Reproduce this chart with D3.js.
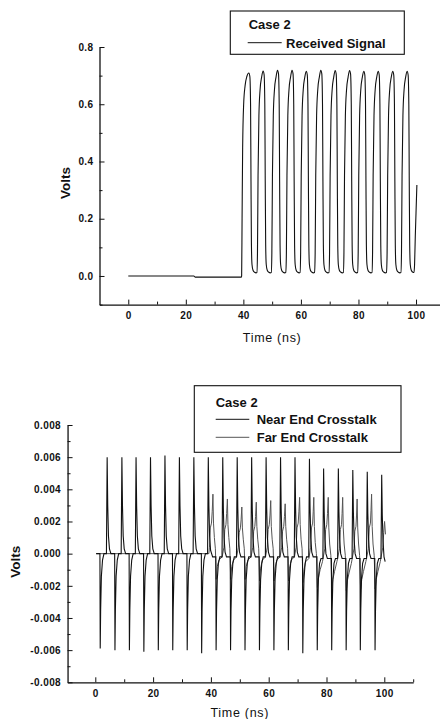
<!DOCTYPE html>
<html>
<head>
<meta charset="utf-8">
<script src="https://cdn.jsdelivr.net/npm/d3@7"></script>
<style>
  body { margin: 0; background: #fff; }
  svg { display: block; font-family: "Liberation Sans", Arial, sans-serif; }
  .axis .tick text { font-size: 10px; font-weight: bold; letter-spacing: 0.4px; fill: #111; }
  .axis path, .axis line { stroke: #111; }
  .axis path { stroke-width: 1.3px; }
  .legend text { font-size: 13px; font-weight: bold; fill: #111; }
  .ytitle { font-size: 13.5px; font-weight: bold; fill: #111; }
  .xtitle { font-size: 12.5px; letter-spacing: 0.7px; fill: #111; }
</style>
</head>
<body>
<div id="chart"></div>
<script>
"use strict"
// ---- data ----
var timeTicksTop = [0, 20, 40, 60, 80, 100];
var timeMinorTop = [10, 30, 50, 70, 90];
var voltTicksTop = [0.0, 0.2, 0.4, 0.6, 0.8];
var voltMinorTop = [-0.1, 0.1, 0.3, 0.5, 0.7];

var timeTicksBot = [0, 20, 40, 60, 80, 100];
var timeMinorBot = [10, 30, 50, 70, 90, 110];
var voltTicksBot = [-0.008, -0.006, -0.004, -0.002, 0, 0.002, 0.004, 0.006, 0.008];
var voltMinorBot = [-0.007, -0.005, -0.003, -0.001, 0.001, 0.003, 0.005, 0.007];

var legendTop = ["Case 2", "Received Signal"];
var legendBot = ["Case 2", "Near End Crosstalk", "Far End Crosstalk"];

// [time ns, volts]
var receivedSignal = [
  [0, 0], [22.8, 0], [23.2, -0.004], [39.3, -0.004],
  [39.4, 0.0], [39.55, 0.2], [39.75, 0.45], [40.1, 0.6], [40.6, 0.665], [41.2, 0.697], [41.9, 0.709],
  [42.25, 0.697], [42.5, 0.6], [42.65, 0.33], [42.8, 0.11], [43.0, 0.04], [43.35, 0.02], [43.9, 0.013], [44.4, 0.011],
  [44.7, 0.012], [44.9, 0.08], [45.1, 0.35], [45.4, 0.56], [45.8, 0.65], [46.35, 0.695], [46.85, 0.716],
  [47.2, 0.704], [47.45, 0.6], [47.6, 0.33], [47.75, 0.11], [47.95, 0.04], [48.3, 0.02], [48.85, 0.013], [49.35, 0.011],
  [49.7, 0.012], [49.9, 0.08], [50.1, 0.35], [50.4, 0.56], [50.8, 0.65], [51.35, 0.695], [51.85, 0.719],
  [52.2, 0.707], [52.45, 0.6], [52.6, 0.33], [52.75, 0.11], [52.95, 0.04], [53.3, 0.02], [53.85, 0.013], [54.35, 0.011],
  [54.75, 0.012], [54.95, 0.08], [55.15, 0.35], [55.45, 0.56], [55.85, 0.65], [56.4, 0.695], [56.9, 0.719],
  [57.25, 0.707], [57.5, 0.6], [57.65, 0.33], [57.8, 0.11], [58.0, 0.04], [58.35, 0.02], [58.9, 0.013], [59.4, 0.011],
  [59.7, 0.012], [59.9, 0.08], [60.1, 0.35], [60.4, 0.56], [60.8, 0.65], [61.35, 0.695], [61.85, 0.715],
  [62.2, 0.703], [62.45, 0.6], [62.6, 0.33], [62.75, 0.11], [62.95, 0.04], [63.3, 0.02], [63.85, 0.013], [64.35, 0.011],
  [64.75, 0.012], [64.95, 0.08], [65.15, 0.35], [65.45, 0.56], [65.85, 0.65], [66.4, 0.695], [66.9, 0.719],
  [67.25, 0.707], [67.5, 0.6], [67.65, 0.33], [67.8, 0.11], [68.0, 0.04], [68.35, 0.02], [68.9, 0.013], [69.4, 0.011],
  [69.75, 0.012], [69.95, 0.08], [70.15, 0.35], [70.45, 0.56], [70.85, 0.65], [71.4, 0.695], [71.9, 0.718],
  [72.25, 0.706], [72.5, 0.6], [72.65, 0.33], [72.8, 0.11], [73.0, 0.04], [73.35, 0.02], [73.9, 0.013], [74.4, 0.011],
  [74.75, 0.012], [74.95, 0.08], [75.15, 0.35], [75.45, 0.56], [75.85, 0.65], [76.4, 0.695], [76.9, 0.718],
  [77.25, 0.706], [77.5, 0.6], [77.65, 0.33], [77.8, 0.11], [78.0, 0.04], [78.35, 0.02], [78.9, 0.013], [79.4, 0.011],
  [79.7, 0.012], [79.9, 0.08], [80.1, 0.35], [80.4, 0.56], [80.8, 0.65], [81.35, 0.695], [81.85, 0.715],
  [82.2, 0.703], [82.45, 0.6], [82.6, 0.33], [82.75, 0.11], [82.95, 0.04], [83.3, 0.02], [83.85, 0.013], [84.35, 0.011],
  [84.7, 0.012], [84.9, 0.08], [85.1, 0.35], [85.4, 0.56], [85.8, 0.65], [86.35, 0.695], [86.85, 0.715],
  [87.2, 0.703], [87.45, 0.6], [87.6, 0.33], [87.75, 0.11], [87.95, 0.04], [88.3, 0.02], [88.85, 0.013], [89.35, 0.011],
  [89.75, 0.012], [89.95, 0.08], [90.15, 0.35], [90.45, 0.56], [90.85, 0.65], [91.4, 0.695], [91.9, 0.715],
  [92.25, 0.703], [92.5, 0.6], [92.65, 0.33], [92.8, 0.11], [93.0, 0.04], [93.35, 0.02], [93.9, 0.013], [94.4, 0.011],
  [94.75, 0.012], [94.95, 0.08], [95.15, 0.35], [95.45, 0.56], [95.85, 0.65], [96.4, 0.695], [96.9, 0.715],
  [97.25, 0.703], [97.5, 0.6], [97.65, 0.33], [97.8, 0.11], [98.0, 0.04], [98.35, 0.02], [98.9, 0.013],
  [99.3, 0.012], [99.5, 0.04], [99.75, 0.14], [100.0, 0.22], [100.3, 0.318]
];

var nearEnd = [
  [0.3, 0], [1.6, 0], [1.7, -0.0059], [1.85, -0.0035], [2.1, -0.0014], [2.5, -0.0004], [3.0, 0],
  [3.85, 0], [4.1, 0.006], [4.3, 0.003], [4.55, 0.0011], [4.9, 0.0003], [5.4, 0],
  [6.7, 0], [6.8, -0.006], [6.95, -0.0035], [7.2, -0.0014], [7.6, -0.0004], [8.1, 0],
  [8.95, 0], [9.2, 0.006], [9.4, 0.003], [9.65, 0.0011], [10.0, 0.0003], [10.5, 0],
  [11.7, 0], [11.8, -0.006], [11.95, -0.0035], [12.2, -0.0014], [12.6, -0.0004], [13.1, 0],
  [13.85, 0], [14.1, 0.006], [14.3, 0.003], [14.55, 0.0011], [14.9, 0.0003], [15.4, 0],
  [16.7, 0], [16.8, -0.0061], [16.95, -0.0035], [17.2, -0.0014], [17.6, -0.0004], [18.1, 0],
  [18.85, 0], [19.1, 0.006], [19.3, 0.003], [19.55, 0.0011], [19.9, 0.0003], [20.4, 0],
  [21.7, 0], [21.8, -0.006], [21.95, -0.0035], [22.2, -0.0014], [22.6, -0.0004], [23.1, 0],
  [23.85, 0], [24.1, 0.0061], [24.3, 0.003], [24.55, 0.0011], [24.9, 0.0003], [25.4, 0],
  [26.7, 0], [26.8, -0.006], [26.95, -0.0035], [27.2, -0.0014], [27.6, -0.0004], [28.1, 0],
  [28.85, 0], [29.1, 0.006], [29.3, 0.003], [29.55, 0.0011], [29.9, 0.0003], [30.4, 0],
  [31.7, 0], [31.8, -0.006], [31.95, -0.0035], [32.2, -0.0014], [32.6, -0.0004], [33.1, 0],
  [33.85, 0], [34.1, 0.006], [34.3, 0.003], [34.55, 0.0011], [34.9, 0.0003], [35.4, 0],
  [36.7, 0], [36.8, -0.0062], [36.95, -0.0035], [37.2, -0.0014], [37.6, -0.0004], [38.1, 0],
  [38.85, 0], [39.1, 0.006], [39.3, 0.003], [39.55, 0.0011], [39.9, 0.0002], [40.6, -0.0002],
  [41.7, -0.0002], [41.8, -0.006], [41.95, -0.0036], [42.2, -0.0016], [42.6, -0.0006], [43.1, -0.0002],
  [43.85, -0.0002], [44.1, 0.006], [44.3, 0.0029], [44.55, 0.001], [44.9, 0.0001], [45.4, -0.0002],
  [46.7, -0.0002], [46.8, -0.006], [46.95, -0.0036], [47.2, -0.0016], [47.6, -0.0006], [48.1, -0.0002],
  [48.85, -0.0002], [49.1, 0.006], [49.3, 0.0029], [49.55, 0.001], [49.9, 0.0001], [50.4, -0.0002],
  [51.7, -0.0002], [51.8, -0.006], [51.95, -0.0036], [52.2, -0.0016], [52.6, -0.0006], [53.1, -0.0002],
  [53.85, -0.0002], [54.1, 0.006], [54.3, 0.0029], [54.55, 0.001], [54.9, 0.0001], [55.4, -0.0002],
  [56.7, -0.0002], [56.8, -0.006], [56.95, -0.0036], [57.2, -0.0016], [57.6, -0.0006], [58.1, -0.0002],
  [58.85, -0.0002], [59.1, 0.006], [59.3, 0.0029], [59.55, 0.001], [59.9, 0.0001], [60.4, -0.0002],
  [61.7, -0.0002], [61.8, -0.006], [61.95, -0.0036], [62.2, -0.0016], [62.6, -0.0006], [63.1, -0.0002],
  [63.85, -0.0002], [64.1, 0.006], [64.3, 0.0029], [64.55, 0.001], [64.9, 0.0001], [65.4, -0.0002],
  [66.7, -0.0002], [66.8, -0.006], [66.95, -0.0036], [67.2, -0.0016], [67.6, -0.0006], [68.1, -0.0002],
  [68.85, -0.0002], [69.1, 0.006], [69.3, 0.0029], [69.55, 0.001], [69.9, 0.0001], [70.4, -0.0002],
  [71.7, -0.0002], [71.8, -0.0062], [71.95, -0.0036], [72.2, -0.0016], [72.6, -0.0006], [73.1, -0.0002],
  [73.85, -0.0002], [74.1, 0.0059], [74.3, 0.0029], [74.55, 0.001], [74.9, 0.0001], [75.4, -0.0002],
  [76.7, -0.0002], [76.8, -0.006], [76.95, -0.0036], [77.2, -0.0016], [77.6, -0.0006], [78.1, -0.0003],
  [78.75, -0.0003], [79.0, 0.0053], [79.2, 0.0026], [79.45, 0.0009], [79.8, 0.0], [80.3, -0.0003],
  [81.7, -0.0003], [81.8, -0.006], [81.95, -0.0036], [82.2, -0.0016], [82.6, -0.0006], [83.1, -0.0003],
  [83.85, -0.0003], [84.1, 0.0053], [84.3, 0.0026], [84.55, 0.0009], [84.9, 0.0], [85.4, -0.0003],
  [86.7, -0.0003], [86.8, -0.006], [86.95, -0.0036], [87.2, -0.0016], [87.6, -0.0006], [88.1, -0.0003],
  [88.85, -0.0003], [89.1, 0.0052], [89.3, 0.0026], [89.55, 0.0009], [89.9, 0.0], [90.4, -0.0003],
  [91.6, -0.0003], [91.7, -0.006], [91.85, -0.0036], [92.1, -0.0016], [92.5, -0.0006], [93.0, -0.0003],
  [93.85, -0.0003], [94.1, 0.0051], [94.3, 0.0025], [94.55, 0.0009], [94.9, 0.0], [95.4, -0.0003],
  [96.7, -0.0003], [96.8, -0.006], [96.95, -0.0036], [97.2, -0.0016], [97.6, -0.0006], [98.1, -0.0003],
  [98.85, -0.0003], [99.1, 0.0049], [99.3, 0.0024], [99.55, 0.0008], [99.9, -0.0002], [100.3, -0.0005]
];

var farEnd = [
  [0.3, 0], [39.3, 0],
  [39.5, 0.0004], [39.8, 0.0016], [40.2, 0.0019], [40.45, 0.0026], [40.7, 0.0037], [40.9, 0.0019], [41.2, 0.001], [41.55, 0.0003], [41.85, -0.0016], [42.2, -0.0008], [42.8, -0.0004], [43.9, -0.0002],
  [44.5, 0.0004], [44.8, 0.0015], [45.2, 0.0018], [45.45, 0.0025], [45.7, 0.0034], [45.9, 0.0018], [46.2, 0.001], [46.55, 0.0003], [46.85, -0.0016], [47.2, -0.0008], [47.8, -0.0004], [48.9, -0.0002],
  [49.5, 0.0004], [49.8, 0.0013], [50.2, 0.0016], [50.45, 0.0021], [50.7, 0.0029], [50.9, 0.0016], [51.2, 0.0009], [51.55, 0.0003], [51.85, -0.0016], [52.2, -0.0008], [52.8, -0.0004], [53.9, -0.0002],
  [54.5, 0.0004], [54.8, 0.0014], [55.2, 0.0017], [55.45, 0.0023], [55.7, 0.0032], [55.9, 0.0017], [56.2, 0.0009], [56.55, 0.0003], [56.85, -0.0017], [57.2, -0.0009], [57.8, -0.0004], [58.9, -0.0002],
  [59.5, 0.0004], [59.8, 0.0015], [60.2, 0.0018], [60.45, 0.0024], [60.7, 0.0033], [60.9, 0.0017], [61.2, 0.0009], [61.55, 0.0003], [61.85, -0.0017], [62.2, -0.0009], [62.8, -0.0004], [63.9, -0.0002],
  [64.5, 0.0004], [64.8, 0.0014], [65.2, 0.0017], [65.45, 0.0023], [65.7, 0.0031], [65.9, 0.0017], [66.2, 0.0009], [66.55, 0.0003], [66.85, -0.0017], [67.2, -0.0009], [67.8, -0.0004], [68.9, -0.0002],
  [69.5, 0.0004], [69.8, 0.0016], [70.2, 0.0019], [70.45, 0.0026], [70.7, 0.0035], [70.9, 0.0018], [71.2, 0.0009], [71.55, 0.0003], [71.85, -0.0018], [72.2, -0.001], [72.8, -0.0005], [73.9, -0.0003],
  [74.5, 0.0004], [74.8, 0.0016], [75.2, 0.0019], [75.4, 0.0026], [75.6, 0.0035], [75.8, 0.0017], [76.1, 0.0007], [76.5, 0.0], [76.85, -0.0021], [77.2, -0.0015], [77.8, -0.001], [78.6, -0.0005],
  [79.4, 0.0003], [79.7, 0.0015], [80.1, 0.0018], [80.35, 0.0025], [80.6, 0.0035], [80.8, 0.0016], [81.1, 0.0006], [81.5, -0.0001], [81.85, -0.0022], [82.2, -0.0016], [82.8, -0.0011], [83.6, -0.0005],
  [84.5, 0.0003], [84.8, 0.0015], [85.2, 0.0018], [85.4, 0.0025], [85.6, 0.0035], [85.8, 0.0016], [86.1, 0.0006], [86.5, -0.0001], [86.85, -0.0023], [87.2, -0.0017], [87.8, -0.0012], [88.6, -0.0006],
  [89.5, 0.0003], [89.8, 0.0014], [90.2, 0.0017], [90.4, 0.0024], [90.6, 0.0034], [90.8, 0.0016], [91.1, 0.0006], [91.45, -0.0001], [91.8, -0.0022], [92.2, -0.0016], [92.8, -0.0011], [93.6, -0.0005],
  [94.5, 0.0003], [94.8, 0.0016], [95.2, 0.0019], [95.4, 0.0027], [95.6, 0.0037], [95.8, 0.0017], [96.1, 0.0006], [96.5, -0.0001], [96.85, -0.0022], [97.2, -0.0016], [97.8, -0.0011], [98.6, -0.0005],
  [99.5, 0.0004], [99.8, 0.0013], [100.1, 0.002], [100.4, 0.0012]
];

var svg = d3.select('#chart').append('svg')
  .attr('width', 440)
  .attr('height', 719);

// draws one framed axis pair with inward ticks
function drawAxes(x, y, xMajor, xMinor, yMajor, yMinor, yFmt, xPad, yPad) {
  var y0 = y.range()[0], x0 = x.range()[0];
  svg.append('g').attr('class', 'axis')
    .attr('transform', 'translate(0,' + y0 + ')')
    .call(d3.axisBottom(x).tickValues(xMajor).tickSizeInner(-5).tickSizeOuter(0)
      .tickPadding(xPad).tickFormat(d3.format('d')));
  svg.append('g').attr('class', 'axis')
    .attr('transform', 'translate(0,' + y0 + ')')
    .call(d3.axisBottom(x).tickValues(xMinor).tickSize(-3).tickFormat(''))
    .call(g => g.select('.domain').remove());
  svg.append('g').attr('class', 'axis')
    .attr('transform', 'translate(' + x0 + ',0)')
    .call(d3.axisLeft(y).tickValues(yMajor).tickSizeInner(-5).tickSizeOuter(0)
      .tickPadding(yPad).tickFormat(yFmt));
  svg.append('g').attr('class', 'axis')
    .attr('transform', 'translate(' + x0 + ',0)')
    .call(d3.axisLeft(y).tickValues(yMinor).tickSize(-3).tickFormat(''))
    .call(g => g.select('.domain').remove());
}

/* ---------- top panel: received signal ---------- */
var xTop = d3.scaleLinear().domain([-10, 108.3]).range([99.5, 439.9]);
var yTop = d3.scaleLinear().domain([-0.1, 0.8]).range([304.6, 47]);

drawAxes(xTop, yTop, timeTicksTop, timeMinorTop, voltTicksTop, voltMinorTop,
  d => d.toFixed(1), 7, 6);

svg.append('path')
  .datum(receivedSignal)
  .attr('fill', 'none')
  .attr('stroke', '#111')
  .attr('stroke-width', 1.1)
  .attr('d', d3.line().x(d => xTop(d[0])).y(d => yTop(d[1])).curve(d3.curveMonotoneX));

svg.append('text').attr('class', 'ytitle')
  .attr('transform', 'translate(70,183) rotate(-90)')
  .attr('text-anchor', 'middle')
  .text('Volts');
svg.append('text').attr('class', 'xtitle')
  .attr('x', xTop(50)).attr('y', 341.5)
  .attr('text-anchor', 'middle')
  .text('Time (ns)');

var legT = svg.append('g').attr('class', 'legend');
legT.append('rect')
  .attr('x', 230.3).attr('y', 11).attr('width', 174).attr('height', 43.3)
  .attr('fill', '#fff').attr('stroke', '#111').attr('stroke-width', 1.1);
legT.append('text').attr('x', 248.7).attr('y', 29.3).text(legendTop[0]);
legT.append('line')
  .attr('x1', 247.7).attr('x2', 281.7).attr('y1', 42.7).attr('y2', 42.7)
  .attr('stroke', '#111');
legT.append('text').attr('x', 286).attr('y', 47.7).text(legendTop[1]);

/* ---------- bottom panel: crosstalk ---------- */
var xBot = d3.scaleLinear().domain([-9.6, 110]).range([67.56, 413.2]);
var yBot = d3.scaleLinear().domain([-0.008, 0.008]).range([682.3, 425]);

drawAxes(xBot, yBot, timeTicksBot, timeMinorBot, voltTicksBot, voltMinorBot,
  d => d.toFixed(3), 7.5, 6.5);

var lineBot = d3.line().x(d => xBot(d[0])).y(d => yBot(d[1]));

svg.append('path')
  .datum(farEnd)
  .attr('fill', 'none')
  .attr('stroke', '#555')
  .attr('stroke-width', 1)
  .attr('d', lineBot);

svg.append('path')
  .datum(nearEnd)
  .attr('fill', 'none')
  .attr('stroke', '#111')
  .attr('stroke-width', 1.1)
  .attr('d', lineBot);

svg.append('text').attr('class', 'ytitle')
  .attr('transform', 'translate(20,561.7) rotate(-90)')
  .attr('text-anchor', 'middle')
  .text('Volts');
svg.append('text').attr('class', 'xtitle')
  .attr('x', xBot(50)).attr('y', 717.3)
  .attr('text-anchor', 'middle')
  .text('Time (ns)');

var legB = svg.append('g').attr('class', 'legend');
legB.append('rect')
  .attr('x', 194.3).attr('y', 385.7).attr('width', 206.7).attr('height', 66.6)
  .attr('fill', '#fff').attr('stroke', '#111').attr('stroke-width', 1.1);
legB.append('text').attr('x', 215.7).attr('y', 406.7).text(legendBot[0]);
legB.append('line')
  .attr('x1', 215.7).attr('x2', 249.3).attr('y1', 419.3).attr('y2', 419.3)
  .attr('stroke', '#111');
legB.append('text').attr('x', 256.7).attr('y', 424.3).text(legendBot[1]);
legB.append('line')
  .attr('x1', 215.7).attr('x2', 249.3).attr('y1', 437.3).attr('y2', 437.3)
  .attr('stroke', '#555');
legB.append('text').attr('x', 256.7).attr('y', 441.7).text(legendBot[2]);
</script>
</body>
</html>
